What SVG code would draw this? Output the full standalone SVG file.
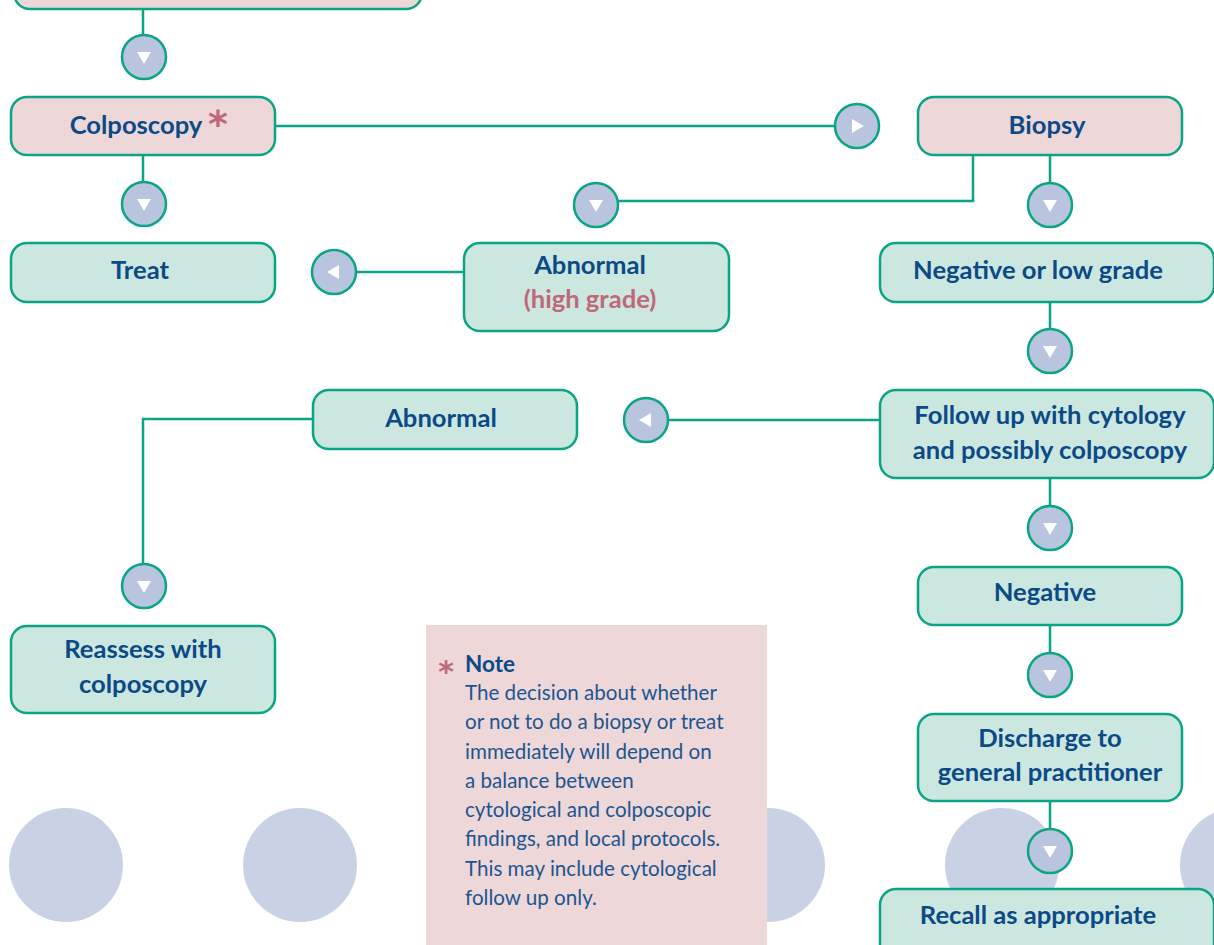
<svg xmlns="http://www.w3.org/2000/svg" xmlns:xlink="http://www.w3.org/1999/xlink" width="1214" height="945" viewBox="0 0 1214 945">
<style>
.bg{fill:#c9d2e5}
.bg-g{fill:#cbe7df;stroke:#0aa584;stroke-width:2.5}
.bp{fill:#edd7d9;stroke:#0aa584;stroke-width:2.5}
.lbl{font-family:Lato,"Open Sans",sans-serif;font-weight:700;font-size:25.6px;fill:#0b4a87;text-anchor:middle}
.pk{fill:#c0687a}
.conn{stroke:#0aa584;stroke-width:2.5;fill:none}
.btn{fill:#b9c5de;stroke:#0aa584;stroke-width:2.5}
.tri{fill:#ffffff}
.note{fill:#edd7d9}
.nt{font-family:Lato,"Open Sans",sans-serif;font-size:20.6px;fill:#1d558f}
.ntb{font-family:Lato,"Open Sans",sans-serif;font-size:22.5px;font-weight:700;fill:#0b4a87}
.ast{font-family:"DejaVu Sans",sans-serif;fill:#c0687a;text-anchor:middle}
</style>
<defs>
<g id="down"><circle class="btn" r="22"/><polygon class="tri" points="-7,-5 7,-5 0,7"/></g>
<g id="right"><circle class="btn" r="22"/><polygon class="tri" points="-5,-7 -5,7 7,0"/></g>
<g id="left"><circle class="btn" r="22"/><polygon class="tri" points="5,-7 5,7 -7,0"/></g>
</defs>

<g id="background">
<circle class="bg" cx="66" cy="865" r="57"/>
<circle class="bg" cx="300" cy="865" r="57"/>
<circle class="bg" cx="534" cy="865" r="57"/>
<circle class="bg" cx="768" cy="865" r="57"/>
<circle class="bg" cx="1002" cy="865" r="57"/>
<circle class="bg" cx="1237" cy="865" r="57"/>
</g>

<g id="connectors">
<path class="conn" d="M143,9 V35"/>
<path class="conn" d="M143,155 V182"/>
<path class="conn" d="M275,126 H835"/>
<path class="conn" d="M973,155 V201 H618"/>
<path class="conn" d="M1050,155 V183"/>
<path class="conn" d="M356,272 H464"/>
<path class="conn" d="M1050,302 V329"/>
<path class="conn" d="M668,420 H880"/>
<path class="conn" d="M313,419 H143 V564"/>
<path class="conn" d="M1050,478 V506"/>
<path class="conn" d="M1050,625 V653"/>
<path class="conn" d="M1050,801 V829"/>
<use xlink:href="#down" x="144" y="57"/>
<use xlink:href="#down" x="144" y="204"/>
<use xlink:href="#right" x="857" y="126"/>
<use xlink:href="#down" x="596" y="205"/>
<use xlink:href="#down" x="1050" y="205"/>
<use xlink:href="#left" x="334" y="272"/>
<use xlink:href="#down" x="1050" y="351"/>
<use xlink:href="#left" x="646" y="420"/>
<use xlink:href="#down" x="144" y="586"/>
<use xlink:href="#down" x="1050" y="528"/>
<use xlink:href="#down" x="1050" y="675"/>
<use xlink:href="#down" x="1050" y="851"/>
</g>

<g id="node-top"><rect class="bp" x="14" y="-50" width="408" height="59" rx="16"/></g>

<g id="node-colposcopy">
<rect class="bp" x="11" y="97" width="264" height="58" rx="16"/>
<text class="lbl" x="136" y="134">Colposcopy</text>
<text class="ast" x="218" y="137" font-size="38" font-weight="700">*</text>
</g>

<g id="node-biopsy">
<rect class="bp" x="918" y="97" width="264" height="58" rx="16"/>
<text class="lbl" x="1047" y="134">Biopsy</text>
</g>

<g id="node-treat">
<rect class="bg-g" x="11" y="243" width="264" height="59" rx="16"/>
<text class="lbl" x="140" y="279">Treat</text>
</g>

<g id="node-abnormal-high">
<rect class="bg-g" x="464" y="243" width="265" height="88" rx="16"/>
<text class="lbl" x="590" y="274">Abnormal</text>
<text class="lbl pk" x="590" y="308">(high grade)</text>
</g>

<g id="node-negative-low">
<rect class="bg-g" x="880" y="243" width="334" height="59" rx="16"/>
<text class="lbl" x="1038" y="279">Negative or low grade</text>
</g>

<g id="node-abnormal">
<rect class="bg-g" x="313" y="390" width="264" height="59" rx="16"/>
<text class="lbl" x="441" y="427">Abnormal</text>
</g>

<g id="node-followup">
<rect class="bg-g" x="880" y="390" width="334" height="88" rx="16"/>
<text class="lbl" x="1050" y="424">Follow up with cytology</text>
<text class="lbl" x="1050" y="459">and possibly colposcopy</text>
</g>

<g id="node-reassess">
<rect class="bg-g" x="11" y="626" width="264" height="87" rx="16"/>
<text class="lbl" x="143" y="658">Reassess with</text>
<text class="lbl" x="143" y="693">colposcopy</text>
</g>

<g id="node-negative">
<rect class="bg-g" x="918" y="567" width="264" height="58" rx="16"/>
<text class="lbl" x="1045" y="601">Negative</text>
</g>

<g id="node-discharge">
<rect class="bg-g" x="918" y="714" width="264" height="87" rx="16"/>
<text class="lbl" x="1050" y="747">Discharge to</text>
<text class="lbl" x="1050" y="781">general practitioner</text>
</g>

<g id="node-recall">
<rect class="bg-g" x="880" y="889" width="334" height="80" rx="16"/>
<text class="lbl" x="1038" y="924">Recall as appropriate</text>
</g>

<g id="note">
<rect class="note" x="426" y="625" width="341" height="320"/>
<text class="ast" x="446" y="682" font-size="30" font-weight="700">*</text>
<text class="ntb" x="465" y="672">Note</text>
<text class="nt" x="465" y="700">The decision about whether</text>
<text class="nt" x="465" y="729">or not to do a biopsy or treat</text>
<text class="nt" x="465" y="759">immediately will depend on</text>
<text class="nt" x="465" y="788">a balance between</text>
<text class="nt" x="465" y="817">cytological and colposcopic</text>
<text class="nt" x="465" y="846">findings, and local protocols.</text>
<text class="nt" x="465" y="876">This may include cytological</text>
<text class="nt" x="465" y="905">follow up only.</text>
</g>
</svg>
